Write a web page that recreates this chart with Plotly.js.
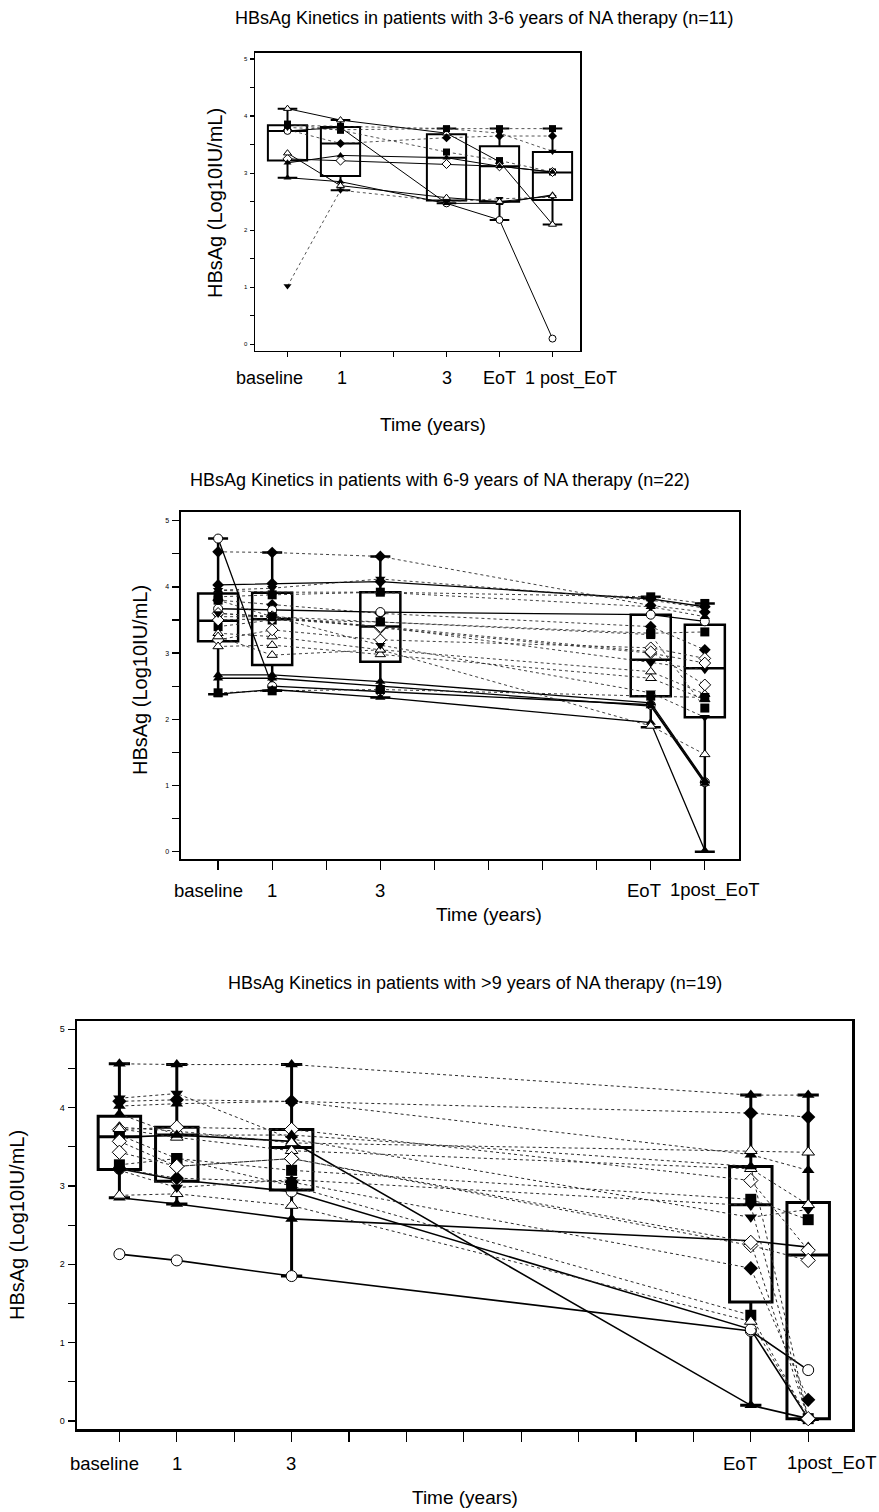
<!DOCTYPE html>
<html><head><meta charset="utf-8">
<script src="https://cdn.plot.ly/plotly-3.0.1.min.js"></script>
<style>html,body{margin:0;padding:0;background:#fff}</style>
</head><body><div id="chart" style="width:879px;height:1512px"></div>
<script>
// ---------- DATA ----------
const panelTitles = [
  'HBsAg Kinetics in patients with 3-6 years of NA therapy (n=11)',
  'HBsAg Kinetics in patients with 6-9 years of NA therapy (n=22)',
  'HBsAg Kinetics in patients with >9 years of NA therapy (n=19)'
];
const yTitle = 'HBsAg (Log10IU/mL)';
const xTitle = 'Time (years)';
const tickLabels1 = ['baseline', '1', '3', 'EoT', '1 post_EoT'];
const tickLabels2 = ['baseline', '1', '3', 'EoT', '1post_EoT'];
const tickLabels3 = ['baseline', '1', '3', 'EoT', '1post_EoT'];
const timePos1 = [0, 1, 3, 4, 5];
const timePos2 = [0, 1, 3, 8, 9];
const timePos3 = [0, 1, 3, 11, 12];

// box summaries
const box1Q1 = [3.22, 2.95, 2.52, 2.50, 2.53];
const box1Med = [3.74, 3.52, 3.27, 3.12, 3.01];
const box1Q3 = [3.84, 3.81, 3.68, 3.47, 3.37];
const box1Lo = [2.92, 2.70, 2.47, 2.18, 2.10];
const box1Hi = [4.13, 3.93, 3.78, 3.78, 3.78];

const box2Q1 = [3.18, 2.82, 2.87, 2.35, 2.03];
const box2Med = [3.49, 3.51, 3.40, 2.90, 2.77];
const box2Q3 = [3.90, 3.91, 3.92, 3.58, 3.43];
const box2Lo = [2.38, 2.43, 2.33, 1.88, 0.00];
const box2Hi = [4.73, 4.52, 4.46, 3.85, 3.75];

const box3Q1 = [3.21, 3.06, 2.95, 1.52, 0.03];
const box3Med = [3.63, 3.65, 3.49, 2.76, 2.12];
const box3Q3 = [3.89, 3.75, 3.72, 3.25, 2.79];
const box3Lo = [2.85, 2.77, 1.85, 0.20, 0.02];
const box3Hi = [4.56, 4.55, 4.55, 4.16, 4.16];

// individual patients (values at baseline, 1y, 3y, EoT, 1 post EoT)
const pat1 = [
  [4.13, 3.93, 3.70, 3.20, 2.10],
  [3.86, 3.75, 3.37, 3.22, 3.02],
  [3.76, 3.52, 3.62, 3.65, 3.65],
  [3.74, 3.80, 2.47, 2.18, 0.10],
  [1.02, 2.70, 2.50, 2.55, 2.58],
  [2.92, 2.85, 2.47, 2.47, 2.62],
  [3.25, 3.22, 3.16, 3.12, 3.02],
  [3.18, 3.31, 3.27, 3.12, 3.02],
  [3.35, 2.78, 2.57, 2.50, 2.60],
  [3.84, 3.82, 3.78, 3.78, 3.78],
  [3.80, 3.76, 3.78, 3.70, 3.38]
];
const pat2 = [
  [4.73, 2.50, 2.42, 2.22, 1.05],
  [4.53, 4.52, 4.46, 3.72, 3.62],
  [4.03, 4.05, 4.08, 3.82, 3.70],
  [3.95, 3.98, 4.12, 3.80, 3.68],
  [3.85, 3.88, 3.92, 3.85, 3.75],
  [3.80, 3.73, 3.60, 3.40, 3.05],
  [3.67, 3.65, 3.62, 3.58, 3.48],
  [3.55, 3.55, 3.40, 2.85, 2.75],
  [3.40, 3.50, 3.47, 3.30, 3.32],
  [3.30, 3.25, 3.05, 2.72, 2.38],
  [3.20, 3.35, 3.20, 3.08, 2.92],
  [3.10, 3.12, 2.98, 2.62, 2.30],
  [2.67, 2.67, 2.57, 2.25, 1.07],
  [2.62, 2.62, 2.50, 2.20, 1.03],
  [2.40, 2.43, 2.45, 2.35, 2.33],
  [2.38, 2.45, 2.33, 1.95, 0.02],
  [3.60, 3.55, 3.38, 3.00, 2.85],
  [3.95, 3.92, 3.92, 3.70, 3.55],
  [3.50, 3.52, 3.40, 3.02, 2.52],
  [3.25, 2.97, 3.05, 1.90, 1.47],
  [3.60, 3.55, 3.12, 2.40, 2.03],
  [3.80, 3.55, 3.47, 3.28, 2.17]
];
const pat3 = [
  [2.13, 2.05, 1.85, 1.15, 0.65],
  [2.85, 2.77, 2.58, 2.30, 2.22],
  [3.22, 3.08, 2.93, 1.17, 0.03],
  [3.62, 3.65, 3.57, 0.20, 0.03],
  [4.56, 4.55, 4.55, 4.16, 4.16],
  [4.08, 4.10, 4.08, 3.93, 3.88],
  [4.12, 4.18, 3.60, 2.60, 2.70],
  [4.02, 4.05, 4.08, 3.40, 3.20],
  [3.75, 3.70, 3.55, 3.45, 3.43],
  [3.72, 3.75, 3.72, 3.07, 2.18],
  [3.65, 3.35, 3.20, 2.83, 2.57],
  [3.57, 3.25, 3.35, 2.24, 2.05],
  [3.73, 3.62, 3.45, 3.22, 2.76],
  [3.27, 3.35, 3.00, 1.35, 0.03],
  [2.88, 2.90, 2.75, 1.27, 0.03],
  [3.92, 3.65, 3.65, 3.25, 0.03],
  [3.20, 2.98, 3.08, 2.75, 0.03],
  [3.22, 3.10, 3.05, 1.95, 0.27],
  [3.43, 3.25, 3.35, 2.28, 0.03]
];

// ---------- STYLES ----------
// marker codes: T tri-up filled, t tri-up open, V tri-down filled, S square, D diamond, d diamond open, o circle open
const sym1 = ['t','S','D','o','V','T','d','T','t','S','V'];
const solid1 = [1,0,0,1,0,1,1,1,1,0,0];
const sym2 = ['o','D','D','V','S','D','o','V','S','t','d','t','T','T','S','T','d','T','d','t','V','S'];
const solid2 = [1,0,1,0,0,0,1,0,0,0,0,0,1,1,0,1,0,0,0,0,0,0];
const sym3 = ['o','T','o','T','T','D','V','T','t','d','S','d','t','S','t','T','V','D','d'];
const solid3 = [1,1,1,1,0,0,0,0,0,0,0,0,0,0,0,0,0,0,0];

const symMap = {
  T: ['triangle-up', false], t: ['triangle-up', true], V: ['triangle-down', false],
  S: ['square', false], D: ['diamond', false], d: ['diamond', true], o: ['circle', true]
};

const W = 879, H = 1512;
const FONT = 'Liberation Sans, Arial, sans-serif';
const panels = [
  {frame: [255, 52.7, 580, 350.7], t0: 287.5, dx: 53.0, y0: 344.3, y5: 59.0, nticks: 6,
   pos: timePos1, labels: tickLabels1, labelX: [269, 342, 447, 499, 571], labelY: 378, labelSize: 18,
   xtitle: [433, 424], ytitle: [215, 203], title: [484, 18],
   q1: box1Q1, med: box1Med, q3: box1Q3, lo: box1Lo, hi: box1Hi, pats: pat1, sym: sym1, solid: solid1,
   msize: 7, boxLw: 2, frameLw: 1.5, solidLw: 1.0, dotLw: 0.8, ytickLen: 4, xtickLen: 5, yfont: 6},
  {frame: [180.6, 511.7, 739.4, 859.3], t0: 218.1, dx: 54.08, y0: 851.7, y5: 520.7, nticks: 10,
   pos: timePos2, labels: tickLabels2, labelX: [208, 272, 380, 644, 714], labelY: 890, labelSize: 18.5,
   xtitle: [489, 915], ytitle: [140, 680], title: [440, 480],
   q1: box2Q1, med: box2Med, q3: box2Q3, lo: box2Lo, hi: box2Hi, pats: pat2, sym: sym2, solid: solid2,
   msize: 9, boxLw: 2.5, frameLw: 2, solidLw: 1.3, dotLw: 0.9, ytickLen: 7, xtickLen: 9, yfont: 7},
  {frame: [77, 1021, 852, 1429], t0: 119.4, dx: 57.4, y0: 1421, y5: 1029.3, nticks: 13,
   pos: timePos3, labels: tickLabels3, labelX: [104, 177, 291, 740, 831], labelY: 1463, labelSize: 18.5,
   xtitle: [465, 1497], ytitle: [17, 1225], title: [475, 983],
   q1: box3Q1, med: box3Med, q3: box3Q3, lo: box3Lo, hi: box3Hi, pats: pat3, sym: sym3, solid: solid3,
   msize: 11, boxLw: 3, frameLw: 2.5, solidLw: 1.6, dotLw: 1.0, ytickLen: 7, xtickLen: 10, yfont: 9}
];

const traces = [];
const layout = {
  width: W, height: H, margin: {l: 0, r: 0, t: 0, b: 0},
  paper_bgcolor: '#fff', plot_bgcolor: '#fff', showlegend: false,
  font: {family: FONT, color: '#000'}, annotations: [], boxmode: 'overlay'
};
const yVals = [0, 0.5, 1, 1.5, 2, 2.5, 3, 3.5, 4, 4.5, 5];
const yText = yVals.map(v => Number.isInteger(v) ? String(v) : '');

panels.forEach((p, i) => {
  const k = i === 0 ? '' : String(i + 1);
  const xa = 'x' + k, ya = 'y' + k;
  const [L, T, R, B] = p.frame;
  const unit = (p.y0 - p.y5) / 5;
  const xr = [(L - p.t0) / p.dx, (R - p.t0) / p.dx];
  const yr = [(p.y0 - B) / unit, (p.y0 - T) / unit];
  const xticks = Array.from({length: p.nticks}, (_, j) => j);
  layout['xaxis' + k] = {
    domain: [L / W, R / W], range: xr, anchor: ya, showgrid: false, zeroline: false,
    showline: true, mirror: true, linecolor: '#000', linewidth: p.frameLw,
    ticks: 'outside', ticklen: p.xtickLen, tickwidth: 1.3, tickcolor: '#000',
    tickvals: xticks, showticklabels: false, fixedrange: true
  };
  layout['yaxis' + k] = {
    domain: [1 - B / H, 1 - T / H], range: yr, anchor: xa, showgrid: false, zeroline: false,
    showline: true, mirror: true, linecolor: '#000', linewidth: p.frameLw,
    ticks: 'outside', ticklen: p.ytickLen, tickwidth: 1.2, tickcolor: '#000',
    tickvals: yVals, ticktext: yText, tickfont: {size: p.yfont, family: FONT, color: '#000'},
    ticklabelstandoff: 1, fixedrange: true
  };
  traces.push({
    type: 'box', x: p.pos, q1: p.q1, median: p.med, q3: p.q3, lowerfence: p.lo, upperfence: p.hi,
    xaxis: xa, yaxis: ya, width: 0.74, whiskerwidth: 0.5, boxpoints: false,
    line: {color: '#000', width: p.boxLw}, fillcolor: 'rgba(255,255,255,0)', hoverinfo: 'skip'
  });
  p.pats.forEach((vals, j) => {
    const [symbol, open] = symMap[p.sym[j]];
    const isSolid = p.solid[j] === 1;
    traces.push({
      type: 'scatter', mode: 'lines+markers', x: p.pos, y: vals, xaxis: xa, yaxis: ya,
      cliponaxis: false,
      line: isSolid ? {color: '#000', width: p.solidLw} : {color: '#2a2a2a', width: p.dotLw, dash: 'dot'},
      marker: {symbol: symbol, size: p.msize, color: open ? '#fff' : '#000',
               line: {color: '#000', width: open ? 1 : 0}},
      hoverinfo: 'skip'
    });
  });
  // x tick labels
  p.labels.forEach((txt, j) => {
    layout.annotations.push({text: txt, xref: 'paper', yref: 'paper', x: p.labelX[j] / W, y: 1 - p.labelY / H,
      xanchor: 'center', yanchor: 'middle', showarrow: false, font: {size: p.labelSize, family: FONT, color: '#000'}});
  });
  layout.annotations.push({text: xTitle, xref: 'paper', yref: 'paper', x: p.xtitle[0] / W, y: 1 - p.xtitle[1] / H,
    xanchor: 'center', yanchor: 'middle', showarrow: false, font: {size: 19, family: FONT, color: '#000'}});
  layout.annotations.push({text: yTitle, xref: 'paper', yref: 'paper', x: p.ytitle[0] / W, y: 1 - p.ytitle[1] / H,
    xanchor: 'center', yanchor: 'middle', textangle: -90, showarrow: false, font: {size: 20, family: FONT, color: '#000'}});
  layout.annotations.push({text: panelTitles[i], xref: 'paper', yref: 'paper', x: p.title[0] / W, y: 1 - p.title[1] / H,
    xanchor: 'center', yanchor: 'middle', showarrow: false, font: {size: 18, family: FONT, color: '#000'}});
});

Plotly.newPlot('chart', traces, layout, {staticPlot: true, displayModeBar: false});
</script>
</body></html>
